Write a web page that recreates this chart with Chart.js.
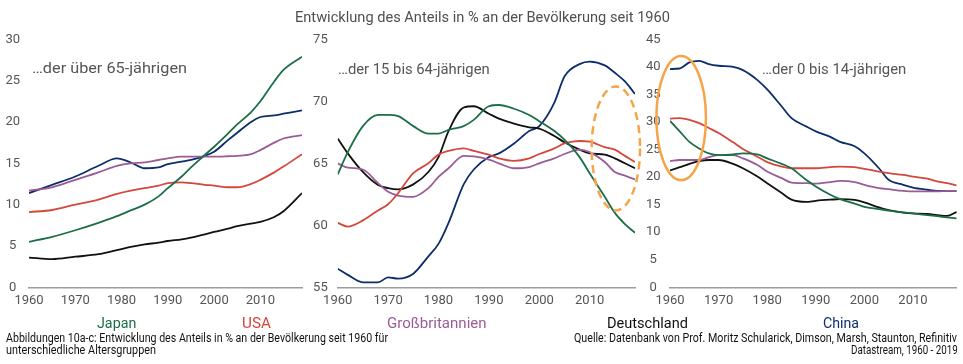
<!DOCTYPE html>
<html><head><meta charset="utf-8">
<script src="https://cdn.jsdelivr.net/npm/chart.js@4.4.1/dist/chart.umd.min.js"></script>
<style>
html,body{margin:0;padding:0;background:#fff;}
#wrap{position:relative;width:963px;height:364px;overflow:hidden;font-family:Roboto, "Liberation Sans", sans-serif;}
.c{position:absolute;top:0;}
.t{position:absolute;white-space:nowrap;line-height:1;transform-origin:left center;}
</style></head><body>
<div id="wrap">
  <div class="c" style="left:0px"><canvas id="c1" width="310" height="320"></canvas></div>
  <div class="c" style="left:305px"><canvas id="c2" width="340" height="320"></canvas></div>
  <div class="c" style="left:640px"><canvas id="c3" width="323" height="320"></canvas></div>

  <div class="t" data-w="375" style="left:295px;top:9.7px;font-size:15.5px;color:#4f4f4f">Entwicklung des Anteils in % an der Bevölkerung seit 1960</div>
  <div class="t" data-w="155" style="left:31.7px;top:60.5px;font-size:15.5px;color:#555">…der über 65-jährigen</div>
  <div class="t" data-w="151.7" style="left:337.7px;top:61.5px;font-size:15.5px;color:#555">…der 15 bis 64-jährigen</div>
  <div class="t" data-w="144.3" style="left:761.7px;top:61.5px;font-size:15.5px;color:#555">…der 0 bis 14-jährigen</div>

  <div class="t" data-w="39.3" style="left:96.7px;top:316px;font-size:14px;color:#1b6e45">Japan</div>
  <div class="t" data-w="29" style="left:241.7px;top:316px;font-size:14px;color:#d4473d">USA</div>
  <div class="t" data-w="99.6" style="left:387.4px;top:316px;font-size:14px;color:#9b5b97">Großbritannien</div>
  <div class="t" data-w="81" style="left:606.7px;top:316px;font-size:14px;color:#111">Deutschland</div>
  <div class="t" data-w="36" style="left:823px;top:316px;font-size:14px;color:#0d2d6b">China</div>

  <div class="t" data-w="382" style="left:6px;top:332px;font-size:12px;color:#111">Abbildungen 10a-c: Entwicklung des Anteils in % an der Bevölkerung seit 1960 für</div>
  <div class="t" data-w="150" style="left:6px;top:344px;font-size:12px;color:#111">unterschiedliche Altersgruppen</div>
  <div class="t" data-w="383" style="left:574px;top:332px;font-size:12px;color:#111">Quelle: Datenbank von Prof. Moritz Schularick, Dimson, Marsh, Staunton, Refinitiv</div>
  <div class="t" data-w="106.7" style="left:850.7px;top:344px;font-size:12px;color:#111">Datastream, 1960 - 2019</div>
</div>
<script>
// ---------- DATA ----------
const seriesNames = ['Japan', 'USA', 'Großbritannien', 'Deutschland', 'China'];
const xTicksStep = 10;

// Panel 1: über 65-jährige
const p1Years = [1960,1965,1970,1975,1979,1982,1985,1988,1990,1993,1995,1998,2000,2003,2005,2008,2010,2013,2015,2019];
const p1Japan = [5.5,6.1,6.9,7.8,8.6,9.3,10.0,11.0,12.0,13.4,14.5,16.0,17.0,18.6,19.7,21.2,22.5,24.9,26.3,27.9];
const p1USA = [9.1,9.35,10.0,10.6,11.3,11.7,12.0,12.3,12.6,12.7,12.6,12.4,12.3,12.1,12.1,12.5,13.0,13.9,14.6,16.1];
const p1GB = [11.7,12.1,13.0,13.9,14.7,15.0,15.1,15.4,15.6,15.8,15.8,15.8,15.8,15.85,15.9,16.1,16.6,17.5,18.0,18.4];
const p1DE = [3.6,3.4,3.7,4.0,4.5,4.9,5.2,5.4,5.6,5.8,6.0,6.4,6.7,7.1,7.4,7.7,7.9,8.5,9.2,11.4];
const p1China = [11.4,12.4,13.4,14.7,15.6,15.1,14.4,14.5,14.9,15.2,15.4,15.9,16.4,17.8,18.7,20.0,20.6,20.8,21.0,21.4];
const p1Ticks = {min: 0, max: 30, step: 5};

// Panel 2: 15 bis 64-jährige
const p2Years = [1960,1962,1965,1968,1970,1972,1975,1978,1980,1982,1985,1987,1990,1992,1995,1998,2000,2003,2005,2008,2010,2013,2015,2017,2019];
const p2Japan = [64.1,65.9,68.0,68.9,68.9,68.8,68.0,67.4,67.4,67.7,68.0,68.5,69.6,69.7,69.4,68.9,68.4,67.6,66.9,65.5,64.2,62.3,61.0,60.1,59.4];
const p2USA = [60.2,59.9,60.4,61.2,61.7,62.6,64.2,65.0,65.7,66.0,66.2,66.0,65.7,65.4,65.2,65.4,65.75,66.2,66.6,66.8,66.75,66.3,66.1,65.6,65.1];
const p2GB = [65.0,64.65,64.5,63.4,62.7,62.4,62.3,63.0,63.9,64.6,65.6,65.55,65.3,65.0,64.6,64.7,65.0,65.4,65.75,66.1,65.9,65.1,64.3,64.0,63.7];
const p2DE = [67.0,65.8,64.3,63.25,63.0,62.9,63.3,64.3,65.5,67.6,69.5,69.6,69.0,68.6,68.2,67.9,67.8,67.2,66.7,66.1,65.8,65.7,65.4,65.0,64.6];
const p2China = [56.5,56.0,55.4,55.4,55.8,55.7,56.1,57.5,58.5,60.2,63.3,64.5,65.5,65.8,66.6,67.6,68.0,69.9,72.0,73.0,73.2,72.9,72.3,71.6,70.6];
const p2Ticks = {min: 55, max: 75, step: 5};

// Panel 3: 0 bis 14-jährige
const p3Years = [1960,1962,1964,1966,1968,1970,1973,1975,1978,1980,1983,1985,1988,1990,1993,1995,1998,2000,2003,2005,2008,2010,2013,2015,2017,2019];
const p3Japan = [30.2,28.3,26.4,25.2,24.3,24.0,24.1,24.3,24.1,23.4,22.4,21.6,19.5,18.3,16.8,16.0,15.2,14.6,14.2,13.9,13.6,13.4,13.1,12.9,12.7,12.5];
const p3USA = [30.6,30.7,30.4,29.8,28.9,28.0,26.3,25.1,23.7,22.7,21.9,21.6,21.6,21.6,21.8,21.9,21.8,21.5,21.0,20.7,20.4,20.1,19.7,19.2,18.9,18.5];
const p3GB = [22.9,23.1,23.1,23.1,23.6,24.0,24.0,23.4,22.2,21.0,19.8,19.0,18.9,18.8,19.1,19.3,19.1,18.6,18.0,17.8,17.5,17.4,17.4,17.4,17.5,17.5];
const p3DE = [21.2,21.8,22.4,22.9,23.1,23.1,22.4,21.6,20.1,18.9,17.1,15.9,15.5,15.7,15.9,16.0,15.85,15.4,14.5,14.0,13.55,13.4,13.3,13.1,12.95,13.7];
const p3China = [39.6,39.7,40.8,41.1,40.5,40.2,40.0,39.4,37.6,35.9,32.8,30.7,29.2,28.3,27.3,26.4,25.6,24.3,21.6,19.5,18.6,18.1,17.7,17.5,17.5,17.5];
const p3Ticks = {min: 0, max: 45, step: 5};

// ---------- STYLE ----------
const colors = {Japan:'#1b6e45', USA:'#d4473d', 'Großbritannien':'#9b5b97', Deutschland:'#111111', China:'#0d2d6b'};
const orange = '#f7a349';

Chart.defaults.font.family = 'Roboto, "Liberation Sans", sans-serif';
Chart.defaults.font.size = 13;
Chart.defaults.color = '#555';

const ellipsePlugin = {
  id: 'ellipse',
  afterDatasetsDraw(chart, args, opts) {
    if (!opts || !opts.show) return;
    const xs = chart.scales.x, ys = chart.scales.y, ctx = chart.ctx;
    const cx = xs.getPixelForValue(opts.cx), cy = ys.getPixelForValue(opts.cy);
    const rx = Math.abs(xs.getPixelForValue(opts.cx + opts.rx) - cx);
    const ry = Math.abs(ys.getPixelForValue(opts.cy + opts.ry) - cy);
    ctx.save();
    ctx.beginPath();
    ctx.ellipse(cx, cy, rx, ry, opts.rot || 0, 0, Math.PI * 2);
    ctx.setLineDash(opts.dash || []);
    ctx.lineWidth = opts.width;
    ctx.strokeStyle = opts.color;
    ctx.stroke();
    ctx.restore();
  }
};

function makePanel(id, years, values, ticks, yAxisW, yPad, padRight, ellipse) {
  const datasets = seriesNames.map((name, i) => ({
    label: name,
    data: years.map((y, k) => ({x: y, y: values[i][k]})),
    borderColor: colors[name],
    backgroundColor: colors[name],
    borderWidth: 1.8,
    pointRadius: 0,
    tension: 0.4,
    cubicInterpolationMode: 'monotone',
    fill: false
  }));
  return new Chart(document.getElementById(id), {
    type: 'line',
    data: {datasets},
    plugins: [ellipsePlugin],
    options: {
      responsive: false,
      animation: false,
      devicePixelRatio: 1,
      layout: {padding: {top: 39.3, right: padRight, bottom: 12.7, left: 0}},
      plugins: {
        legend: {display: false},
        tooltip: {enabled: false},
        ellipse: ellipse || {show: false}
      },
      scales: {
        x: {
          type: 'linear', min: 1960, max: 2019,
          grid: {display: false, drawTicks: false},
          border: {display: true, color: '#9c9c9c', width: 1.5},
          ticks: {stepSize: xTicksStep, includeBounds: false, padding: 6, maxRotation: 0,
                  callback: v => String(v), color: '#555'},
          afterFit: s => { s.height = 20; }
        },
        y: {
          min: ticks.min, max: ticks.max,
          grid: {display: false, drawTicks: false},
          border: {display: false},
          ticks: {stepSize: ticks.step, crossAlign: 'center', padding: yPad, color: '#555'},
          afterFit: s => { s.width = yAxisW; }
        }
      }
    }
  });
}

makePanel('c1', p1Years, [p1Japan, p1USA, p1GB, p1DE, p1China], p1Ticks, 29, 9, 8);
makePanel('c2', p2Years, [p2Japan, p2USA, p2GB, p2DE, p2China], p2Ticks, 32.7, 10, 10,
  {show: true, cx: 2015.2, cy: 66.2, rx: 4.8, ry: 5.0, dash: [8, 5], width: 2.5, color: orange});
makePanel('c3', p3Years, [p3Japan, p3USA, p3GB, p3DE, p3China], p3Ticks, 30, 9.5, 6.3,
  {show: true, cx: 1962.3, cy: 30.7, rx: 5.1, ry: 11.25, dash: [], width: 2.5, color: orange});

// fit texts to their measured widths in the reference
document.querySelectorAll('.t').forEach(el => {
  const w = parseFloat(el.dataset.w);
  const cur = el.getBoundingClientRect().width;
  if (cur > 0) el.style.transform = 'scaleX(' + (w / cur) + ')';
});
</script>
</body></html>
